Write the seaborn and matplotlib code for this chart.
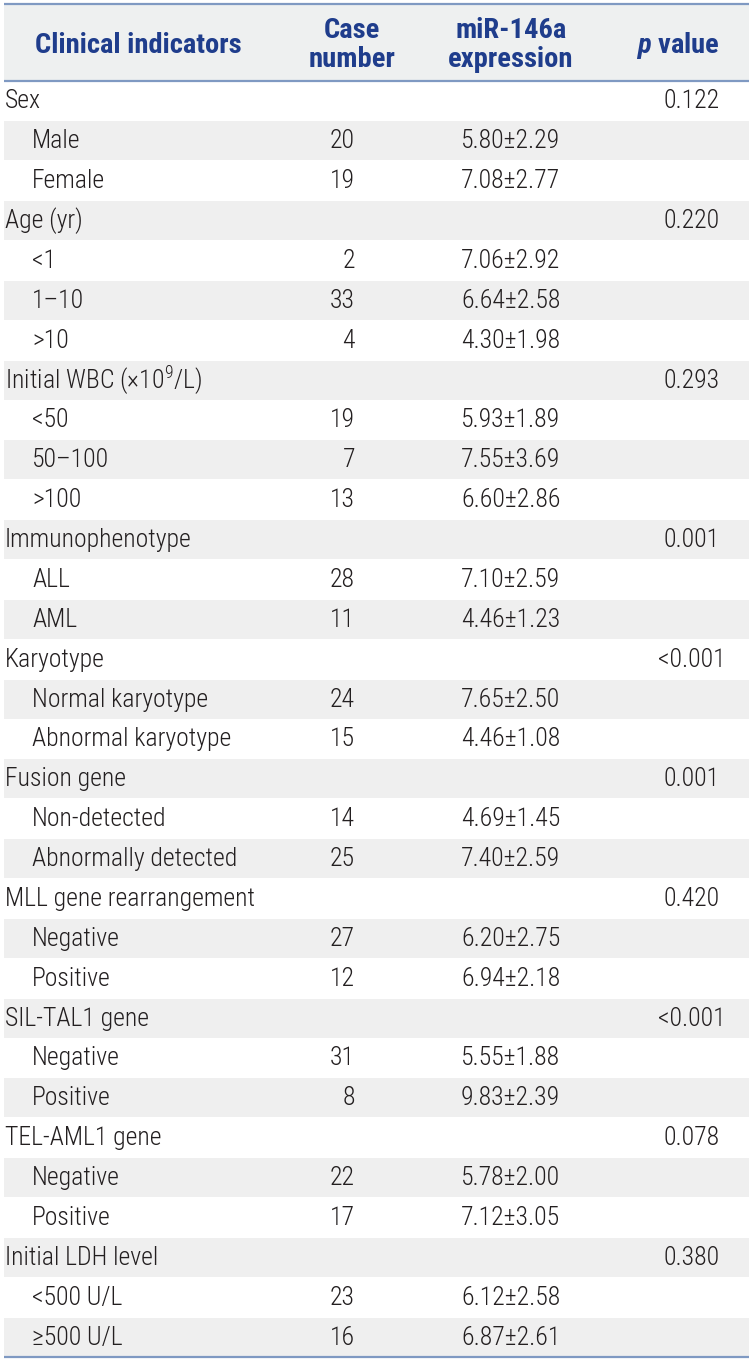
import matplotlib
matplotlib.use("Agg")
import matplotlib.pyplot as plt
from matplotlib import font_manager
import seaborn as sns

# ---------------- data ----------------
header_labels = ["Clinical indicators", "Case\nnumber", "miR-146a\nexpression", "$\\boldsymbol{p}$ value"]
row_labels = [
    "Sex", "Male", "Female",
    "Age (yr)", "<1", "1\u201310", ">10",
    "Initial WBC (\u00d710$^{9}$/L)", "<50", "50\u2013100", ">100",
    "Immunophenotype", "ALL", "AML",
    "Karyotype", "Normal karyotype", "Abnormal karyotype",
    "Fusion gene", "Non-detected", "Abnormally detected",
    "MLL gene rearrangement", "Negative", "Positive",
    "SIL-TAL1 gene", "Negative", "Positive",
    "TEL-AML1 gene", "Negative", "Positive",
    "Initial LDH level", "<500 U/L", "\u2265500 U/L",
]
is_group = [
    1, 0, 0,
    1, 0, 0, 0,
    1, 0, 0, 0,
    1, 0, 0,
    1, 0, 0,
    1, 0, 0,
    1, 0, 0,
    1, 0, 0,
    1, 0, 0,
    1, 0, 0,
]
case_numbers = [
    "", "20", "19",
    "", "2", "33", "4",
    "", "19", "7", "13",
    "", "28", "11",
    "", "24", "15",
    "", "14", "25",
    "", "27", "12",
    "", "31", "8",
    "", "22", "17",
    "", "23", "16",
]
expression = [
    "", "5.80\u00b12.29", "7.08\u00b12.77",
    "", "7.06\u00b12.92", "6.64\u00b12.58", "4.30\u00b11.98",
    "", "5.93\u00b11.89", "7.55\u00b13.69", "6.60\u00b12.86",
    "", "7.10\u00b12.59", "4.46\u00b11.23",
    "", "7.65\u00b12.50", "4.46\u00b11.08",
    "", "4.69\u00b11.45", "7.40\u00b12.59",
    "", "6.20\u00b12.75", "6.94\u00b12.18",
    "", "5.55\u00b11.88", "9.83\u00b12.39",
    "", "5.78\u00b12.00", "7.12\u00b13.05",
    "", "6.12\u00b12.58", "6.87\u00b12.61",
]
p_values = [
    "0.122", "", "",
    "0.220", "", "", "",
    "0.293", "", "", "",
    "0.001", "", "",
    "<0.001", "", "",
    "0.001", "", "",
    "0.420", "", "",
    "<0.001", "", "",
    "0.078", "", "",
    "0.380", "", "",
]

# ---------------- style ----------------
sns.set_theme(style="white")
available = {f.name for f in font_manager.fontManager.ttflist}
main_font = "DejaVu Sans"
for cand in ["Roboto Condensed", "Liberation Sans Narrow", "Open Sans Condensed", "Liberation Sans"]:
    if cand in available:
        main_font = cand
        break
fam = [main_font, "DejaVu Sans"]
plt.rcParams["font.family"] = fam
plt.rcParams["mathtext.fontset"] = "custom"
plt.rcParams["mathtext.rm"] = main_font + ":light"
plt.rcParams["mathtext.it"] = main_font + ":italic"
plt.rcParams["mathtext.bf"] = main_font + ":bold"
plt.rcParams["mathtext.bfit"] = main_font + ":bold:italic"

W, H = 753, 1361
fig = plt.figure(figsize=(W / 100, H / 100), dpi=100)
ax = fig.add_axes([0, 0, 1, 1])
ax.set_xlim(0, W)
ax.set_ylim(H, 0)
ax.axis("off")

line_col = "#7f99c2"
head_bg = "#eef0f0"
stripe_bg = "#efefef"
head_txt = "#1f3d8c"
body_txt = "#231f20"

x0, x1 = 4, 749
top, head_bot = 4, 80.5
n = len(row_labels)
row_h = (1356.5 - head_bot) / n

# header
ax.add_patch(plt.Rectangle((x0, top), x1 - x0, head_bot - top, color=head_bg, lw=0, zorder=0))
ax.plot([x0, x1], [top, top], color=line_col, lw=1.6, solid_capstyle="butt")
ax.plot([x0, x1], [head_bot, head_bot], color=line_col, lw=1.6, solid_capstyle="butt")
hy = (top + head_bot) / 2 + 3
hfs = 20.5
ax.text(138, hy, header_labels[0], ha="center", va="center", fontsize=hfs, fontweight="bold", color=head_txt)
ax.text(352, hy, header_labels[1], ha="center", va="center", fontsize=hfs, fontweight="bold", color=head_txt, linespacing=1.08)
ax.text(511, hy, header_labels[2], ha="center", va="center", fontsize=hfs, fontweight="bold", color=head_txt, linespacing=1.08)
ax.text(678, hy, header_labels[3], ha="center", va="center", fontsize=hfs, fontweight="bold", color=head_txt)

# body
fs = 18.5
fw = "light"
for i in range(n):
    ytop = head_bot + i * row_h
    yc = ytop + row_h / 2 + 1
    if i % 2 == 1:
        ax.add_patch(plt.Rectangle((x0, ytop + 1), x1 - x0, row_h - 1, color=stripe_bg, lw=0, zorder=0))
    lx = 5 if is_group[i] else 32
    ax.text(lx, yc, row_labels[i], ha="left", va="center", fontsize=fs, fontweight=fw, color=body_txt)
    if case_numbers[i]:
        ax.text(355, yc, case_numbers[i], ha="right", va="center", fontsize=fs, fontweight=fw, color=body_txt)
    if expression[i]:
        ax.text(461, yc, expression[i], ha="left", va="center", fontsize=fs, fontweight=fw, color=body_txt)
    if p_values[i]:
        ax.text(692, yc, p_values[i], ha="center", va="center", fontsize=fs, fontweight=fw, color=body_txt)

ax.plot([x0, x1], [1356.5, 1356.5], color=line_col, lw=1.6, solid_capstyle="butt")

fig.savefig("out.png", dpi=100)
